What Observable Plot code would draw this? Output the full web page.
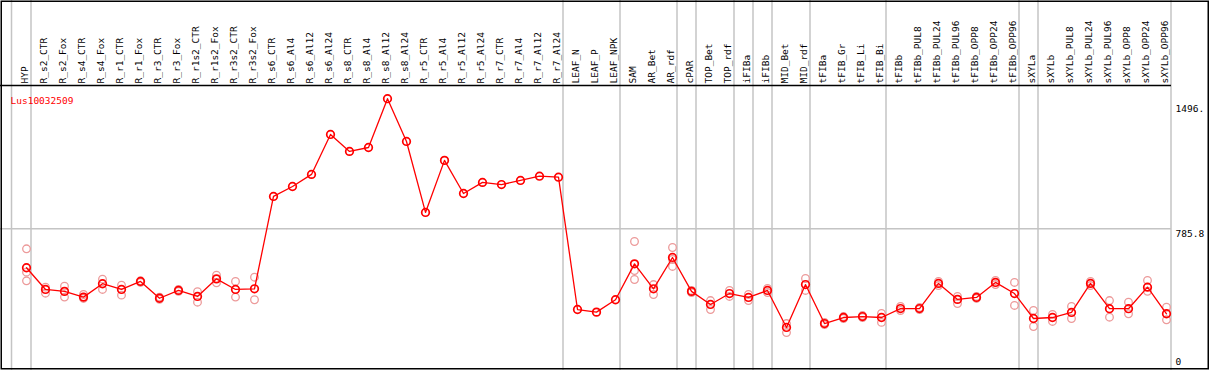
<!DOCTYPE html>
<html>
<head>
<meta charset="utf-8">
<script src="https://cdn.jsdelivr.net/npm/d3@7"></script>
<script src="https://cdn.jsdelivr.net/npm/@observablehq/plot@0.6"></script>
<style>
  html, body { margin: 0; padding: 0; background: #fff; }
  #chart svg { display: block; }
</style>
</head>
<body>
<div id="chart"></div>
<script>
const title = "Lus10032509";

const cats = ["HYP","R_s2_CTR","R_s2_Fox","R_s4_CTR","R_s4_Fox","R_r1_CTR","R_r1_Fox","R_r3_CTR","R_r3_Fox","R_r1s2_CTR","R_r1s2_Fox","R_r3s2_CTR","R_r3s2_Fox",
  "R_s6_CTR","R_s6_Al4","R_s6_Al12","R_s6_Al24","R_s8_CTR","R_s8_Al4","R_s8_Al12","R_s8_Al24","R_r5_CTR","R_r5_Al4","R_r5_Al12","R_r5_Al24","R_r7_CTR","R_r7_Al4","R_r7_Al12","R_r7_Al24",
  "LEAF_N","LEAF_P","LEAF_NPK","SAM","AR_Bet","AR_rdf","cPAR","TOP_Bet","TOP_rdf","iFIBa","iFIBb","MID_Bet","MID_rdf",
  "tFIBa","tFIB_Gr","tFIB_Li","tFIB_Bi","tFIBb","tFIBb_PUL8","tFIBb_PUL24","tFIBb_PUL96","tFIBb_OPP8","tFIBb_OPP24","tFIBb_OPP96",
  "sXYLa","sXYLb","sXYLb_PUL8","sXYLb_PUL24","sXYLb_PUL96","sXYLb_OPP8","sXYLb_OPP24","sXYLb_OPP96"];

// mean expression per sample
const means = [547,414,402,367,449,414,463,360,408,371,479,414,418,
  984,1045,1119,1364,1260,1284,1583,1321,886,1205,1002,1070,1057,1082,1108,1102,
  291,275,351,571,418,610,402,322,389,365,408,181,444,
  205,242,248,242,297,297,451,353,365,457,389,
  236,242,273,451,296,296,428,265];

// replicate values (null = no visible replicate)
const rep1 = [663,428,434,383,477,440,467,367,414,400,501,463,489,
  null,null,null,null,null,null,null,null,null,null,null,null,null,null,null,null,null,null,null,
  708,444,671,408,346,408,383,420,205,481,212,248,254,267,310,303,463,371,371,469,457,285,261,310,463,346,336,469,305];
const rep2 = [520,391,367,359,414,379,457,354,402,336,455,367,351,
  null,null,null,null,null,null,null,null,null,null,null,null,null,null,null,null,null,null,null,
  530,383,598,395,291,371,346,395,150,408,199,236,242,212,285,291,438,328,359,444,316,187,218,236,438,244,265,403,228];
const rep3 = [467,
  null,null,null,null,null,null,null,null,null,null,null,null,null,null,null,null,null,null,null,null,null,null,null,null,null,null,null,null,null,null,null,
  475,null,555,
  null,null,null,null,null,null,null,null,null,null,null,null,null,null,null,null,null,null,null,null,null,null,null,null,null,null];

// last sample of each group (grey separators)
const groupEnds = ["HYP","R_r7_Al24","LEAF_NPK","AR_rdf","cPAR","TOP_rdf","iFIBa","iFIBb","MID_rdf","tFIB_Bi","tFIBb_OPP96","sXYLa","sXYLb_OPP96"];

const yTicks = [1496, 785.8, 0];
const yTickLabels = ["1496.", "785.8", "0"];
const yMid = 785.8;
const yTop = 1664;

const mainData = cats.map((c, i) => ({cat: c, value: means[i]}));
const repData = [];
[rep1, rep2, rep3].forEach(r => r.forEach((v, i) => { if (v != null) repData.push({cat: cats[i], value: v}); }));
const tickData = yTicks.map((v, i) => ({v, label: yTickLabels[i]}));

const chart = Plot.plot({
  width: 1209,
  height: 370,
  margin: 0,
  style: {fontFamily: "'DejaVu Sans Mono', monospace", fontSize: "9.5px", background: "#fff", color: "#000"},
  x: {type: "point", domain: cats, range: [26.2, 1166.2], padding: 0, axis: null},
  y: {type: "linear", domain: [0, yTop], range: [356.5, 85], axis: null},
  marks: [
    Plot.ruleX(groupEnds, {x: d => d, dx: 4.5, stroke: "#c4c4c4", strokeWidth: 1.5}),
    Plot.ruleX([cats[0]], {x: d => d, dx: -15, stroke: "#c4c4c4", strokeWidth: 1.5}),
    Plot.ruleY([yMid], {y: d => d, stroke: "#c4c4c4", strokeWidth: 1.5, insetRight: 38}),
    Plot.ruleY([yTop], {y: d => d, stroke: "#000", strokeWidth: 1.5, insetRight: 38}),
    Plot.frame({stroke: "#000", strokeWidth: 1.5, insetLeft: 0.75, insetTop: 0.75, insetRight: 1.25, insetBottom: 1.75}),
    Plot.text(cats, {x: d => d, text: d => d, frameAnchor: "top", dy: 83, dx: -5.5, rotate: -90, textAnchor: "start", fill: "#000"}),
    Plot.text([title], {frameAnchor: "top-left", dx: 10, dy: 96.5, textAnchor: "start", fill: "#ff0000"}),
    Plot.text(tickData.filter(d => d.v !== 1496), {y: "v", text: "label", frameAnchor: "left", dx: 1175, dy: 5, textAnchor: "start", fill: "#000"}),
    Plot.text(tickData.filter(d => d.v === 1496), {y: "v", text: "label", frameAnchor: "left", dx: 1175, dy: -4, textAnchor: "start", fill: "#000"}),
    Plot.dot(repData, {x: "cat", y: "value", r: 3.8, stroke: "#ec9a9a", strokeWidth: 1.3, fill: "none"}),
    Plot.line(mainData, {x: "cat", y: "value", stroke: "#ff0000", strokeWidth: 1.3}),
    Plot.dot(mainData, {x: "cat", y: "value", r: 3.8, stroke: "#ff0000", strokeWidth: 1.7, fill: "none"})
  ]
});
document.getElementById("chart").appendChild(chart);
</script>
</body>
</html>
